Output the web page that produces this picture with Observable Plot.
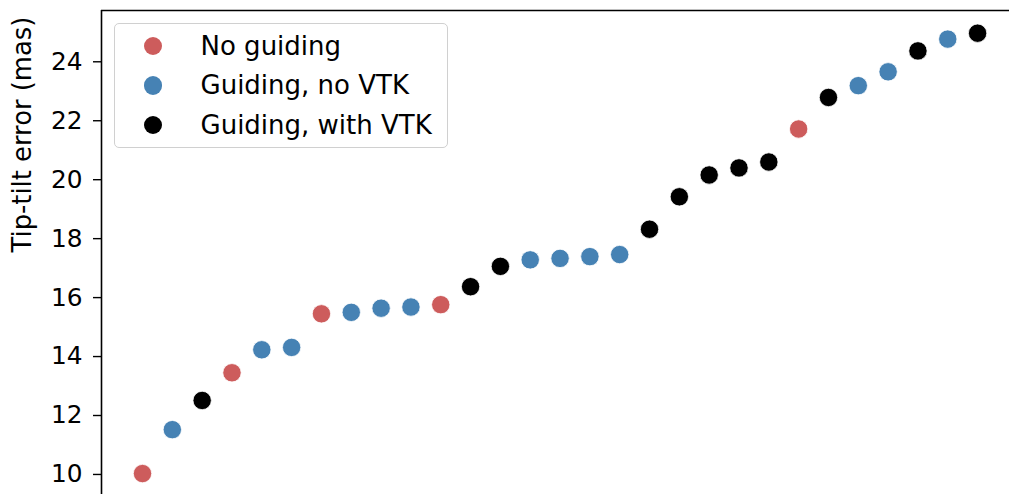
<!DOCTYPE html>
<html>
<head>
<meta charset="utf-8">
<script src="https://cdn.jsdelivr.net/npm/d3@7"></script>
<script src="https://cdn.jsdelivr.net/npm/@observablehq/plot@0.6"></script>
<style>
  html, body { margin: 0; padding: 0; background: white; }
  #wrap { position: relative; width: 1009px; height: 494px; overflow: hidden; font-family: "DejaVu Sans", sans-serif; }
  #legend { position: absolute; left: 114px; top: 23px; width: 334px; height: 125px; box-sizing: border-box;
            border: 1.2px solid #d0d0d0; border-radius: 5px; background: rgba(255,255,255,0.8); padding-top: 2px; }
  .row { display: flex; align-items: center; height: 39.5px; font-size: 26px; color: black; }
  .sw { width: 18.5px; height: 18.5px; border-radius: 50%; margin-left: 28.5px; margin-right: 38.5px; flex: none; }
</style>
</head>
<body>
<div id="wrap"></div>
<script>
// Categories and colours
const categories = ["No guiding", "Guiding, no VTK", "Guiding, with VTK"];
const colors = ["#cd5c5c", "#4682b4", "#000000"];

// Tip-tilt error (mas) for each run, in sorted order
const tipTilt = [10.03, 11.52, 12.51, 13.45, 14.23, 14.31, 15.45, 15.50, 15.64, 15.68,
                 15.76, 16.37, 17.06, 17.28, 17.33, 17.39, 17.46, 18.32, 19.42, 20.16,
                 20.40, 20.60, 21.72, 22.79, 23.19, 23.66, 24.37, 24.77, 24.97];
// category index per run (0 = No guiding, 1 = Guiding no VTK, 2 = Guiding with VTK)
const modeCode = [0, 1, 2, 0, 1, 1, 0, 1, 1, 1,
                  0, 2, 2, 1, 1, 1, 1, 2, 2, 2,
                  2, 2, 0, 2, 1, 1, 2, 1, 2];

const yTicks = [10, 12, 14, 16, 18, 20, 22, 24];
const yLabel = "Tip-tilt error (mas)";

const data = tipTilt.map((v, i) => ({run: i, value: v, mode: categories[modeCode[i]]}));

const xDomain = [-1.375, 29.07];
const yDomain = [9.32, 25.74];

const chart = Plot.plot({
  width: 1009,
  height: 494,
  marginLeft: 101,
  marginRight: 0,
  marginTop: 10,
  marginBottom: 0,
  style: {fontFamily: "DejaVu Sans", fontSize: "24px", color: "black", background: "white", overflow: "visible"},
  x: {domain: xDomain, axis: null},
  y: {domain: yDomain, axis: null},
  color: {domain: categories, range: colors},
  marks: [
    Plot.axisY({ticks: yTicks, tickSize: 8, tickPadding: 11, label: null, fontSize: 24.8, strokeWidth: 1.4}),
    Plot.ruleX([xDomain[0]], {stroke: "black", strokeWidth: 1.6}),
    Plot.ruleY([yDomain[1]], {stroke: "black", strokeWidth: 1.6}),
    Plot.dot(data, {x: "run", y: "value", fill: "mode", r: 9.2, stroke: "white", strokeWidth: 0.8}),
    Plot.text([yLabel], {frameAnchor: "left", rotate: -90, dx: -79, text: d => d, fontSize: 25.8, fill: "black", lineAnchor: "middle"})
  ]
});

const wrap = document.getElementById("wrap");
wrap.appendChild(chart);

const legend = document.createElement("div");
legend.id = "legend";
categories.forEach((c, i) => {
  const row = document.createElement("div");
  row.className = "row";
  const sw = document.createElement("span");
  sw.className = "sw";
  sw.style.background = colors[i];
  const t = document.createElement("span");
  t.textContent = c;
  row.appendChild(sw);
  row.appendChild(t);
  legend.appendChild(row);
});
wrap.appendChild(legend);
</script>
</body>
</html>
